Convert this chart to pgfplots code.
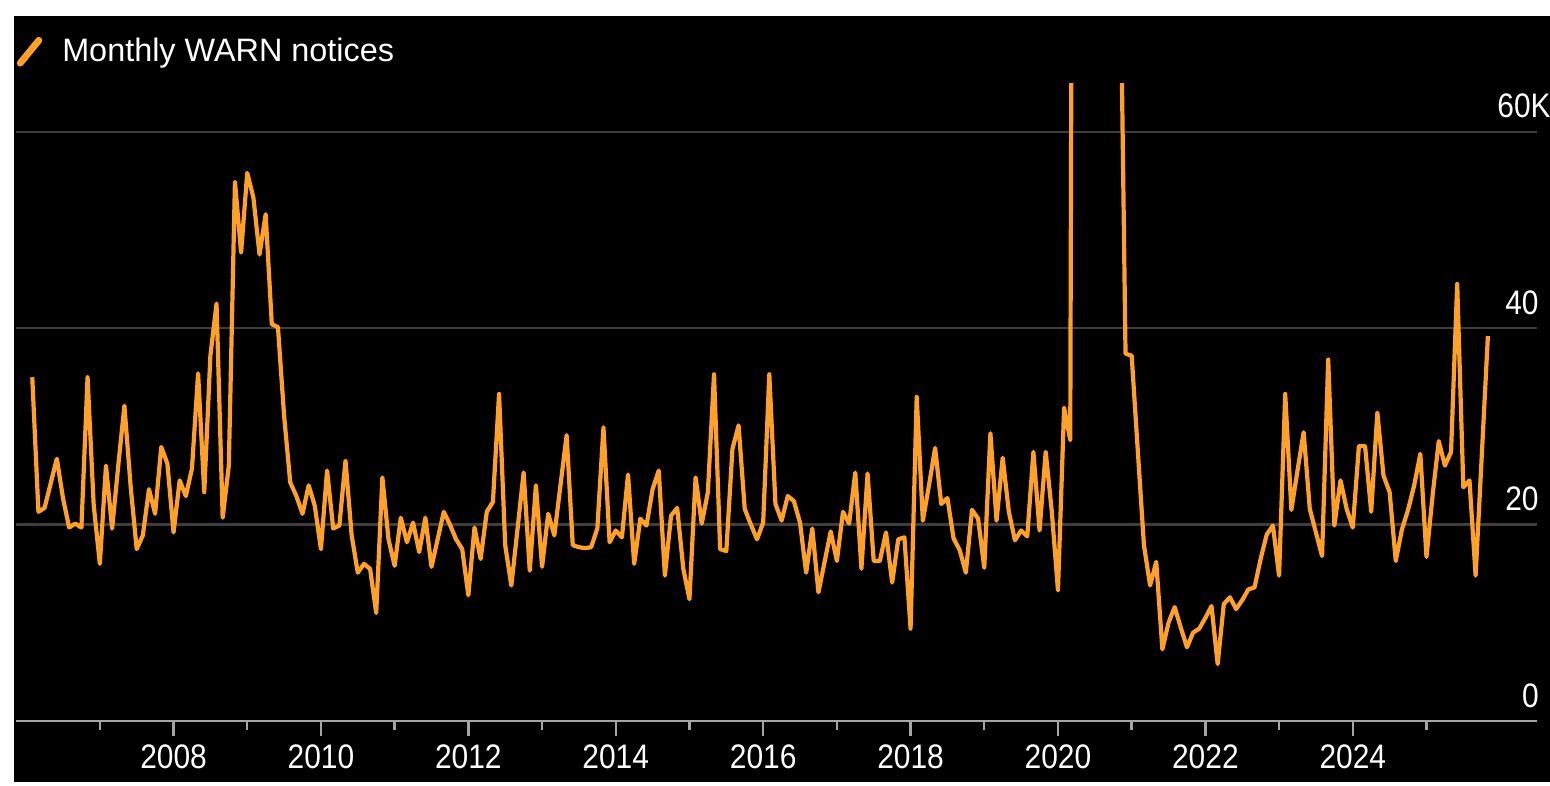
\documentclass[border=0pt]{standalone}
\usepackage{fontspec}
\setmainfont{Liberation Sans}
\newfontfamily\tickfont[FakeStretch=0.88]{Liberation Sans}
\usepackage{pgfplots}
\pgfplotsset{compat=1.18}
\definecolor{bbgOrange}{RGB}{255,161,40}
\definecolor{gridgray}{RGB}{62,62,62}
\definecolor{axisgray}{RGB}{165,165,165}
\begin{document}
\begin{tikzpicture}[x=1bp,y=1bp]
\useasboundingbox (0,0) rectangle (775,392.5);
\fill[white] (0,0) rectangle (775,392.5);
\fill[black] (7,1.5) rectangle (775,384.5);
\begin{axis}[
  at={(8bp,32bp)}, anchor=south west,
  scale only axis, width=760.5bp, height=318.7bp,
  xmin=-2.65, xmax=245, ymin=0, ymax=64.9,
  axis line style={draw=none},
  xtick={23,47,71,95,119,143,167,191,215},
  xticklabels={2008,2010,2012,2014,2016,2018,2020,2022,2024},
  minor xtick={11,35,59,83,107,131,155,179,203,227},
  xtick pos=bottom,
  tick align=outside,
  major tick length=7.5bp, minor tick length=4.5bp,
  xtick style={axisgray, line width=1.2bp},
  minor tick style={axisgray, line width=1.2bp},
  xticklabel style={anchor=north, inner sep=0pt, text=white, font=\tickfont\fontsize{17bp}{20bp}\selectfont, yshift=-4bp},
  ytick={0,20,40,60},
  yticklabels={0,20,40,60K\kern-6bp},
  ytick pos=right, yticklabel pos=right,
  ytick style={draw=none},
  yticklabel style={anchor=base east, inner sep=0pt, text=white, font=\tickfont\fontsize{17bp}{20bp}\selectfont, yshift=7bp, xshift=-6.5bp},
  ymajorgrids,
  grid style={gridgray, line width=1.2bp},
  legend style={at={(0.0003,1.05)}, anchor=west, draw=none, fill=none, inner sep=0pt, column sep=10bp,
     nodes={inner sep=0pt, text=white, font=\fontsize{16.2bp}{19bp}\selectfont}},
  legend image code/.code={\draw[bbgOrange, line width=3.4bp, line cap=round] (1.7bp,-5.7bp) -- (11bp,5.7bp);},
]
\addplot[bbgOrange, line width=2.1bp, line join=round, mark=none] coordinates {
(0,35.0)(1,21.3)(2,21.7)(3,24.2)(4,26.7)(5,22.7)(6,19.7)(7,20.1)(8,19.7)(9,35.0)
(10,22.0)(11,16.0)(12,26.0)(13,19.6)(14,26.0)(15,32.1)(16,24.0)(17,17.5)(18,18.9)(19,23.6)
(20,21.1)(21,27.9)(22,26.2)(23,19.2)(24,24.5)(25,22.9)(26,25.7)(27,35.4)(28,23.3)(29,37.2)
(30,42.5)(31,20.7)(32,26.0)(33,54.9)(34,47.7)(35,55.8)(36,53.3)(37,47.5)(38,51.6)(39,40.4)
(40,40.1)(41,31.1)(42,24.3)(43,22.9)(44,21.1)(45,24.0)(46,21.9)(47,17.5)(48,25.5)(49,19.6)
(50,19.9)(51,26.5)(52,18.9)(53,15.1)(54,16.0)(55,15.5)(56,11.0)(57,24.8)(58,18.5)(59,15.8)
(60,20.7)(61,18.2)(62,20.2)(63,17.2)(64,20.7)(65,15.7)(66,18.5)(67,21.3)(68,20.0)(69,18.5)
(70,17.5)(71,12.8)(72,19.7)(73,16.5)(74,21.3)(75,22.3)(76,33.3)(77,17.9)(78,13.8)(79,19.5)
(80,25.3)(81,15.3)(82,24.0)(83,15.7)(84,21.1)(85,18.9)(86,24.0)(87,29.1)(88,17.9)(89,17.7)
(90,17.6)(91,17.7)(92,19.6)(93,29.9)(94,18.2)(95,19.4)(96,18.7)(97,25.1)(98,16.0)(99,20.6)
(100,19.9)(101,23.6)(102,25.5)(103,14.8)(104,20.9)(105,21.7)(106,15.5)(107,12.4)(108,24.8)(109,20.1)
(110,23.3)(111,35.3)(112,17.5)(113,17.3)(114,27.7)(115,30.1)(116,21.6)(117,20.0)(118,18.5)(119,20.2)
(120,35.3)(121,22.1)(122,20.4)(123,22.9)(124,22.4)(125,20.2)(126,15.1)(127,19.6)(128,13.1)(129,16.2)
(130,19.3)(131,16.3)(132,21.3)(133,20.1)(134,25.3)(135,15.5)(136,25.2)(137,16.3)(138,16.3)(139,19.2)
(140,14.1)(141,18.5)(142,18.7)(143,9.4)(144,33.0)(145,20.4)(146,24.0)(147,27.8)(148,22.1)(149,22.7)
(150,18.6)(151,17.4)(152,15.1)(153,21.5)(154,20.6)(155,15.6)(156,29.3)(157,20.4)(158,26.8)(159,21.3)
(160,18.4)(161,19.4)(162,18.8)(163,27.4)(164,19.4)(165,27.4)(166,21.3)(167,13.3)(168,31.9)(169,28.6)
(170,250)(171,180)(172,130)(173,110)(174,100)(175,95)(176,90)(177,85)(178,37.4)(179,37.2)
(180,27.5)(181,17.9)(182,13.8)(183,16.2)(184,7.3)(185,10.0)(186,11.6)(187,9.5)(188,7.5)(189,9.0)
(190,9.4)(191,10.5)(192,11.7)(193,5.8)(194,11.9)(195,12.6)(196,11.4)(197,12.3)(198,13.4)(199,13.6)
(200,16.5)(201,19.0)(202,19.9)(203,14.8)(204,33.3)(205,21.5)(206,25.5)(207,29.4)(208,21.6)(209,19.2)
(210,16.8)(211,36.8)(212,19.9)(213,24.5)(214,21.6)(215,19.7)(216,28.0)(217,28.0)(218,21.3)(219,31.4)
(220,25.0)(221,23.3)(222,16.3)(223,19.5)(224,21.5)(225,24.0)(226,27.2)(227,16.7)(228,23.0)(229,28.5)
(230,26.0)(231,27.4)(232,44.5)(233,23.8)(234,24.5)(235,14.8)(236,27.0)(237,39.2)
};
\addlegendentry{Monthly WARN notices}
\draw[axisgray, line width=1.5bp] (rel axis cs:0,0) -- (rel axis cs:1,0);
\end{axis}
\end{tikzpicture}
\end{document}
